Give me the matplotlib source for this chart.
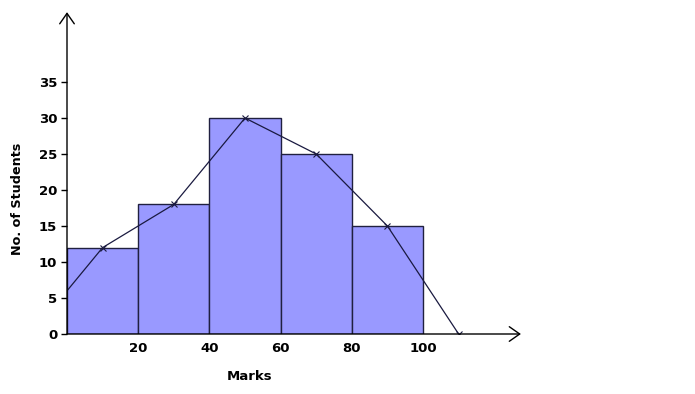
import matplotlib
matplotlib.use("Agg")
import matplotlib.pyplot as plt

bin_left = [0, 20, 40, 60, 80]
bin_width = 20
counts = [12, 18, 30, 25, 15]
poly_x = [0, 10, 30, 50, 70, 90, 110]
poly_y = [6, 12, 18, 30, 25, 15, 0]
xticks = [20, 40, 60, 80, 100]
yticks = [0, 5, 10, 15, 20, 25, 30, 35]

fig = plt.figure(figsize=(6.95, 3.94), dpi=100)
ax = fig.add_axes([67/695, 60/394, 455.7/695, 324/394])
ax.set_xlim(0, 128)
ax.set_ylim(0, 45)

ax.bar(bin_left, counts, width=bin_width, align='edge', color='#9999ff',
       edgecolor='#202040', linewidth=1.0, zorder=2)
ax.plot(poly_x, poly_y, color='#1a1a40', linewidth=0.9, zorder=3)
ax.plot(poly_x[1:], poly_y[1:], linestyle='none', marker='x', markersize=5,
        markeredgewidth=0.8, color='#1a1a40', zorder=4)

for s in ax.spines.values():
    s.set_visible(False)

# axis arrows
ax.annotate('', xy=(127.5, 0), xytext=(0, 0),
            arrowprops=dict(arrowstyle='->,head_length=0.5,head_width=0.35',
                            color='black', lw=1.0,
                            mutation_scale=15, shrinkA=0, shrinkB=0),
            annotation_clip=False, zorder=5)
ax.annotate('', xy=(0, 44.7), xytext=(0, 0),
            arrowprops=dict(arrowstyle='->,head_length=0.5,head_width=0.35',
                            color='black', lw=1.0,
                            mutation_scale=15, shrinkA=0, shrinkB=0),
            annotation_clip=False, zorder=5)

ax.set_xticks(xticks)
ax.set_xticklabels([str(v) for v in xticks], fontsize=9.5, fontweight='bold')
ax.tick_params(axis='x', length=0, pad=6)
ax.set_yticks(yticks)
ax.set_yticklabels([str(v) for v in yticks], fontsize=9.5, fontweight='bold')
ax.tick_params(axis='y', length=4, width=1, pad=3)

fig.text(250/695, 1 - 377/394, 'Marks', ha='center', va='center',
         fontsize=9.5, fontweight='bold')
fig.text(18/695, 1 - 199/394, 'No. of Students', ha='center', va='center',
         rotation=90, fontsize=9.2, fontweight='bold')

fig.savefig('out.png', dpi=100)
